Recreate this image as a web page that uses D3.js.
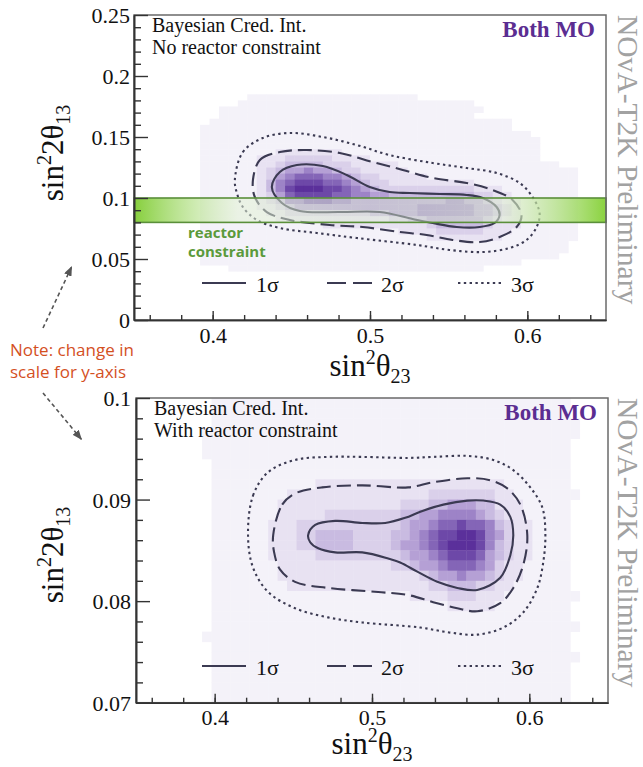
<!DOCTYPE html>
<html><head><meta charset="utf-8">
<script src="https://cdn.jsdelivr.net/npm/d3@7/dist/d3.min.js"></script>
<style>body{margin:0;background:#fff}svg{display:block}</style>
</head><body>
<svg id="c" width="643" height="767"></svg>
<script>
// ---------------- DATA ----------------
const xDomain = [0.35, 0.65];
const xMajorTicks = [0.4, 0.5, 0.6];
const xMajorLabels = ["0.4", "0.5", "0.6"];
const xMinorTicks = [0.36,0.38,0.40,0.42,0.44,0.46,0.48,0.50,0.52,0.54,0.56,0.58,0.60,0.62,0.64];

const topYDomain = [0, 0.25];
const topYMajorTicks = [0, 0.05, 0.1, 0.15, 0.2, 0.25];
const topYMajorLabels = ["0", "0.05", "0.1", "0.15", "0.2", "0.25"];
const topYMinorTicks = [0.01,0.02,0.03,0.04,0.06,0.07,0.08,0.09,0.11,0.12,0.13,0.14,0.16,0.17,0.18,0.19,0.21,0.22,0.23,0.24];

const botYDomain = [0.07, 0.1];
const botYMajorTicks = [0.07, 0.08, 0.09, 0.1];
const botYMajorLabels = ["0.07", "0.08", "0.09", "0.1"];
const botYMinorTicks = [0.072,0.074,0.076,0.078,0.082,0.084,0.086,0.088,0.092,0.094,0.096,0.098];

const reactorBand = [0.08, 0.10];
const legendLabels = ["1σ", "2σ", "3σ"];

// histogram binning (bin widths in data units)
const histXBin = 0.006;
const topGridTop = 0.185, topYBin = 0.005;
const botGridTop = 0.100, botYBin = 0.001;

// posterior density levels (0 = empty, 1..9 increasing)
const topGrid = [
"0000000000 0011111111 1111111111 0000000000 0000000000",
"0000000000 0111111111 1111111111 1111110000 0000000000",
"0000000001 1111111111 1111111111 1111111000 0000000000",
"0000000001 1111111111 1111111111 1111110000 0000000000",
"0000000011 1111111111 1111111111 1111111111 0000000000",
"0000000111 1111111111 1111111111 1111111111 0000000000",
"0000000111 1111111111 1111111111 1111111111 1100000000",
"0000000111 1111111111 1111111111 1111111111 1110000000",
"0000000111 1111111111 1111111111 1111111111 1110000000",
"0000000111 1111122222 2211111111 1111111111 1110000000",
"0000000111 1112223333 3222211111 1111111111 1110000000",
"0000000111 1112234444 3332222211 1111111111 1111100000",
"0000000111 1112345565 5433222221 1111111111 1111111000",
"0000000111 1112356777 6654332222 2111111111 1111111000",
"0000000111 1112467888 7765433222 2222221111 1111111000",
"0000000111 1112468999 8876543333 3333332221 1111111000",
"0000000111 1112357888 8776655444 4444443322 1111111000",
"0000000111 1112346677 7665555555 5556655432 2111111000",
"0000000111 1112234555 5555555555 6666665543 2111111000",
"0000000111 1111223333 3333344555 6666665543 2111111000",
"0000000111 1111122222 2222222334 4555555432 2111111000",
"0000000111 1111111111 2222222222 2344444322 2111111000",
"0000000111 1111111111 1111111122 2233333222 1111111000",
"0000000111 1111111111 1111111111 1222222221 1111111000",
"0000000111 1111111111 1111111111 1111111111 1111110000",
"0000000111 1111111111 1111111111 1111111111 1111110000",
"0000000111 1111111111 1111111111 1111111111 1111100000",
"0000000111 1111111111 1111111111 1111111111 1000000000",
"0000000000 1111111111 1111111111 1111111000 0000000000"
];
const botGrid = [
"0000000011 1111111111 1111111111 1111111111 1111110000",
"0000000011 1111111111 1111111111 1111111111 1111110000",
"0000000011 1111111111 1111111111 1111111111 1111111000",
"0000000111 1111111111 1111111111 1111111111 1111111000",
"0000000111 1111111111 1111111111 1111111111 1111110000",
"0000000111 1111111111 1111111111 1111111111 1111110000",
"0000000011 1111111111 1111111111 1111111111 1111110000",
"0000000011 1111111111 1111111111 1111111111 1111110000",
"0000000011 1111111112 2222222222 2222222221 1111110000",
"0000000011 1111112222 2222222222 2333333322 1111111000",
"0000000011 1111122222 2222222233 3445554422 2111110000",
"0000000011 1111122222 3333333344 5566665432 2111110000",
"0000000011 1111222333 3333333345 5677877643 2211110000",
"0000000011 1111222334 4443333445 6788998653 2211110000",
"0000000011 1111222334 4443333455 6789998643 2211110000",
"0000000011 1111222223 3333333345 5678887543 2211110000",
"0000000011 1111122222 2222222334 5567776532 2111110000",
"0000000011 1111122222 2222222222 3455655432 2111110000",
"0000000011 1111112222 2222222222 2334443322 1111110000",
"0000000011 1111111111 1111111112 2223332221 1111111000",
"0000000011 1111111111 1111111111 1112222211 1111110000",
"0000000011 1111111111 1111111111 1111111111 1111110000",
"0000000011 1111111111 1111111111 1111111111 1111111000",
"0000000111 1111111111 1111111111 1111111111 1111110000",
"0000000011 1111111111 1111111111 1111111111 1111110000",
"0000000011 1111111111 1111111111 1111111111 1111111000",
"0000000011 1111111111 1111111111 1111111111 1111110000",
"0000000011 1111111111 1111111111 1111111111 1111110000",
"0000000011 1111111111 1111111111 1111111111 1111110000",
"0000000011 1111111111 1111111111 1111111111 1111110000"
];

// credible-interval contours [sin^2 theta23, sin^2 2theta13]
const top1s = [[0.4376,0.1090],[0.4427,0.1213],[0.4535,0.1270],[0.4700,0.1262],[0.4852,0.1189],[0.4998,0.1090],[0.5125,0.1049],[0.5252,0.1041],[0.5443,0.1033],[0.5614,0.1025],[0.5716,0.1000],[0.5805,0.0926],[0.5824,0.0861],[0.5792,0.0795],[0.5697,0.0762],[0.5551,0.0762],[0.5398,0.0795],[0.5271,0.0828],[0.5062,0.0885],[0.4808,0.0885],[0.4554,0.0893],[0.4440,0.0959]];
const top2s = [[0.4256,0.1148],[0.4300,0.1311],[0.4427,0.1377],[0.4598,0.1393],[0.4808,0.1369],[0.5017,0.1295],[0.5208,0.1230],[0.5398,0.1164],[0.5614,0.1123],[0.5779,0.1066],[0.5906,0.0984],[0.5963,0.0861],[0.5932,0.0762],[0.5824,0.0680],[0.5697,0.0639],[0.5525,0.0656],[0.5360,0.0697],[0.5189,0.0721],[0.4954,0.0762],[0.4744,0.0779],[0.4490,0.0820],[0.4344,0.0885],[0.4268,0.1008]];
const top3s = [[0.4141,0.1148],[0.4192,0.1377],[0.4319,0.1492],[0.4490,0.1533],[0.4700,0.1500],[0.4916,0.1434],[0.5125,0.1352],[0.5398,0.1287],[0.5614,0.1246],[0.5805,0.1205],[0.5951,0.1123],[0.6033,0.1008],[0.6078,0.0877],[0.6059,0.0762],[0.5995,0.0656],[0.5887,0.0590],[0.5716,0.0557],[0.5506,0.0574],[0.5297,0.0615],[0.4916,0.0672],[0.4662,0.0713],[0.4427,0.0754],[0.4281,0.0820],[0.4192,0.0926],[0.4154,0.1041]];
const bot1s = [[0.4594,0.0865],[0.4639,0.0875],[0.4766,0.0879],[0.4938,0.0877],[0.5084,0.0877],[0.5211,0.0882],[0.5307,0.0888],[0.5453,0.0895],[0.5606,0.0899],[0.5707,0.0899],[0.5815,0.0895],[0.5879,0.0883],[0.5898,0.0865],[0.5879,0.0845],[0.5815,0.0823],[0.5669,0.0811],[0.5542,0.0813],[0.5415,0.0819],[0.5288,0.0829],[0.5179,0.0838],[0.5103,0.0842],[0.4938,0.0848],[0.4766,0.0848],[0.4658,0.0852],[0.4607,0.0858]];
const bot2s = [[0.4372,0.0865],[0.4429,0.0895],[0.4511,0.0906],[0.4683,0.0912],[0.4938,0.0914],[0.5230,0.0912],[0.5389,0.0917],[0.5606,0.0921],[0.5752,0.0919],[0.5860,0.0911],[0.5943,0.0895],[0.5987,0.0865],[0.5962,0.0836],[0.5898,0.0813],[0.5815,0.0798],[0.5669,0.0790],[0.5542,0.0793],[0.5389,0.0799],[0.5230,0.0806],[0.5039,0.0809],[0.4721,0.0813],[0.4511,0.0819],[0.4416,0.0831],[0.4378,0.0848]];
const bot3s = [[0.4212,0.0865],[0.4244,0.0904],[0.4340,0.0927],[0.4511,0.0939],[0.4721,0.0942],[0.4938,0.0942],[0.5230,0.0941],[0.5389,0.0942],[0.5606,0.0943],[0.5771,0.0939],[0.5898,0.0929],[0.6006,0.0912],[0.6083,0.0892],[0.6102,0.0865],[0.6089,0.0839],[0.6051,0.0813],[0.5962,0.0789],[0.5835,0.0774],[0.5669,0.0767],[0.5497,0.0769],[0.5307,0.0774],[0.4938,0.0779],[0.4721,0.0784],[0.4511,0.0793],[0.4340,0.0809],[0.4244,0.0833]];

// ---------------- DRAWING ----------------
const levelColors = ["none","#f4f2f9","#e8e2f2","#dad0ea","#c9bbe1","#b5a0d5","#9d83c7","#8465b7","#6d48a8","#5b309b"];
const lineColor = "#3b3a52";
const serif = "'Liberation Serif','Times New Roman',serif";
const svg = d3.select("#c");
const defs = svg.append("defs");

const lineGen = d3.line().curve(d3.curveCatmullRomClosed.alpha(0.5));

function panel(cfg) {
  const x = d3.scaleLinear().domain(xDomain).range([cfg.left, cfg.right]);
  const y = d3.scaleLinear().domain(cfg.yDomain).range([cfg.bottom, cfg.top]);
  defs.append("clipPath").attr("id", cfg.id + "clip").append("rect")
    .attr("x", cfg.left).attr("y", cfg.top)
    .attr("width", cfg.right - cfg.left).attr("height", cfg.bottom - cfg.top);
  const g = svg.append("g");
  const hg = g.append("g").attr("clip-path", `url(#${cfg.id}clip)`);

  const cells = [];
  cfg.grid.forEach((rowStr, r) => {
    const row = rowStr.replace(/ /g, "");
    for (let c = 0; c < row.length; c++) {
      const v = +row[c];
      if (v > 0) cells.push({
        x0: xDomain[0] + c * histXBin, x1: xDomain[0] + (c + 1) * histXBin,
        yHi: cfg.gridTop - r * cfg.yBin, yLo: cfg.gridTop - (r + 1) * cfg.yBin, v
      });
    }
  });
  hg.selectAll("rect.cell").data(cells).join("rect").attr("class", "cell")
    .attr("x", d => x(d.x0)).attr("y", d => y(d.yHi))
    .attr("width", d => x(d.x1) - x(d.x0) + 0.4)
    .attr("height", d => y(d.yLo) - y(d.yHi) + 0.4)
    .attr("fill", d => levelColors[d.v]);

  const styles = [
    {data: cfg.c1, dash: null},
    {data: cfg.c2, dash: "14,6"},
    {data: cfg.c3, dash: "2.4,3.4"}
  ];
  styles.forEach(s => {
    hg.append("path").attr("d", lineGen(s.data.map(p => [x(p[0]), y(p[1])])))
      .attr("fill", "none").attr("stroke", lineColor).attr("stroke-width", 2.1)
      .attr("stroke-dasharray", s.dash);
  });

  if (cfg.band) {
    const gid = cfg.id + "grad";
    const grad = defs.append("linearGradient").attr("id", gid)
      .attr("gradientUnits", "userSpaceOnUse")
      .attr("x1", x(xDomain[0])).attr("x2", x(xDomain[1])).attr("y1", 0).attr("y2", 0);
    [[0, "#86cf3c", 1], [0.22, "#e2f2d4", 0.55], [0.5, "#dcebd2", 0.42], [0.78, "#e2f2d4", 0.55], [1, "#8ad23f", 1]]
      .forEach(s => grad.append("stop").attr("offset", s[0]).attr("stop-color", s[1]).attr("stop-opacity", s[2]));
    g.append("rect").attr("x", x(xDomain[0])).attr("y", y(cfg.band[1]))
      .attr("width", x(xDomain[1]) - x(xDomain[0])).attr("height", y(cfg.band[0]) - y(cfg.band[1]))
      .attr("fill", `url(#${gid})`).attr("stroke", "#5a8f3a").attr("stroke-width", 1.6);
    const t = g.append("text").attr("font-family", "'Open Sans',sans-serif").attr("font-weight", "bold")
      .attr("font-size", 15).attr("fill", "#5b9a3b");
    t.append("tspan").attr("x", 188).attr("y", 238).text("reactor");
    t.append("tspan").attr("x", 188).attr("y", 257).text("constraint");
  }

  // frame
  g.append("rect").attr("x", cfg.left).attr("y", cfg.top)
    .attr("width", cfg.right - cfg.left).attr("height", cfg.bottom - cfg.top)
    .attr("fill", "none").attr("stroke", "#6a6a6a").attr("stroke-width", 1.5);

  // axes
  const styleAxis = a => {
    a.attr("font-family", serif).attr("font-size", 22);
    a.select(".domain").attr("stroke", "#333").attr("stroke-width", 1.6);
    a.selectAll(".tick line").attr("stroke", "#333").attr("stroke-width", 1.4);
    a.selectAll(".tick text").attr("font-family", serif).attr("font-size", 22).attr("fill", "#111");
  };
  const ax = g.append("g").attr("transform", `translate(0,${cfg.bottom})`)
    .call(d3.axisBottom(x).tickValues(xMinorTicks).tickSize(-5).tickSizeOuter(0).tickFormat(""));
  styleAxis(ax);
  const axM = g.append("g").attr("transform", `translate(0,${cfg.bottom})`)
    .call(d3.axisBottom(x).tickValues(xMajorTicks).tickSize(-9).tickSizeOuter(0).tickPadding(7)
      .tickFormat((d, i) => xMajorLabels[i]));
  styleAxis(axM);
  const ay = g.append("g").attr("transform", `translate(${cfg.left},0)`)
    .call(d3.axisLeft(y).tickValues(cfg.yMinor).tickSize(-7).tickSizeOuter(0).tickFormat(""));
  styleAxis(ay);
  const ayM = g.append("g").attr("transform", `translate(${cfg.left},0)`)
    .call(d3.axisLeft(y).tickValues(cfg.yMajor).tickSize(-14).tickSizeOuter(0).tickPadding(cfg.yPad)
      .tickFormat((d, i) => cfg.yLabels[i]));
  styleAxis(ayM);
  ayM.selectAll(".tick text").attr("dy", "0.34em");

  // texts
  const txt = g.append("text").attr("font-family", serif).attr("font-size", 20).attr("fill", "#111");
  txt.append("tspan").attr("x", cfg.left + 18).attr("y", cfg.top + 17).text("Bayesian Cred. Int.");
  txt.append("tspan").attr("x", cfg.left + 18).attr("y", cfg.top + 39).text(cfg.subtitle);
  g.append("text").attr("x", cfg.right - 11).attr("y", cfg.top + 22).attr("text-anchor", "end")
    .attr("font-family", serif).attr("font-weight", "bold").attr("font-size", 23)
    .attr("fill", "#5b2d91").text("Both MO");
  g.append("text").attr("transform", `translate(${cfg.vtX},${cfg.top}) rotate(90)`)
    .attr("font-family", serif).attr("font-size", 29.5).attr("fill", "#a2a2a2")
    .text("NOvA-T2K Preliminary");

  // axis titles
  const xt = g.append("text").attr("x", (cfg.left + cfg.right) / 2).attr("y", cfg.bottom + cfg.xTitleDy)
    .attr("text-anchor", "middle").attr("font-family", serif).attr("font-size", 31).attr("fill", "#111");
  xt.append("tspan").text("sin");
  xt.append("tspan").attr("font-size", 20).attr("dy", -12).text("2");
  xt.append("tspan").attr("dy", 12).text("θ");
  xt.append("tspan").attr("font-size", 20).attr("dy", 7).text("23");

  const yt = g.append("text").attr("transform", `translate(63,${cfg.yTitleY}) rotate(-90)`)
    .attr("text-anchor", "middle").attr("font-family", serif).attr("font-size", 31).attr("fill", "#111");
  yt.append("tspan").text("sin");
  yt.append("tspan").attr("font-size", 20).attr("dy", -12).text("2");
  yt.append("tspan").attr("dy", 12).text("2θ");
  yt.append("tspan").attr("font-size", 20).attr("dy", 7).text("13");

  // legend
  const ly = cfg.legendY;
  const leg = g.append("g");
  const items = [
    {x0: 202, x1: 246, dash: null, tx: 256},
    {x0: 327, x1: 372, dash: "19,7", tx: 381},
    {x0: 458, x1: 502, dash: "2.4,3.4", tx: 511}
  ];
  items.forEach((it, i) => {
    leg.append("line").attr("x1", it.x0).attr("x2", it.x1).attr("y1", ly).attr("y2", ly)
      .attr("stroke", lineColor).attr("stroke-width", 2.1).attr("stroke-dasharray", it.dash);
    leg.append("text").attr("x", it.tx).attr("y", ly + 9).attr("font-family", serif)
      .attr("font-size", 22).attr("fill", "#111").text(legendLabels[i]);
  });
}

panel({id: "top", left: 134, right: 606, top: 15, bottom: 320,
  yDomain: topYDomain, yMajor: topYMajorTicks, yLabels: topYMajorLabels, yMinor: topYMinorTicks, yPad: 4,
  grid: topGrid, gridTop: topGridTop, yBin: topYBin,
  c1: top1s, c2: top2s, c3: top3s, band: reactorBand, vtX: 618,
  subtitle: "No reactor constraint", xTitleDy: 56, yTitleY: 153, legendY: 283});

panel({id: "bot", left: 136, right: 608, top: 398, bottom: 702.7,
  yDomain: botYDomain, yMajor: botYMajorTicks, yLabels: botYMajorLabels, yMinor: botYMinorTicks, yPad: 5,
  grid: botGrid, gridTop: botGridTop, yBin: botYBin,
  c1: bot1s, c2: bot2s, c3: bot3s, band: null, vtX: 618,
  subtitle: "With reactor constraint", xTitleDy: 51, yTitleY: 555, legendY: 666});

// annotation
const note = svg.append("text").attr("font-family", "'Open Sans',sans-serif").attr("font-size", 17).attr("fill", "#d4501f");
note.append("tspan").attr("x", 10).attr("y", 356).text("Note: change in");
note.append("tspan").attr("x", 10).attr("y", 378).text("scale for y-axis");

defs.append("marker").attr("id", "ah").attr("viewBox", "0 0 10 8").attr("refX", 10).attr("refY", 4)
  .attr("markerWidth", 10).attr("markerHeight", 8).attr("markerUnits", "userSpaceOnUse").attr("orient", "auto")
  .append("path").attr("d", "M0,0L10,4L0,8z").attr("fill", "#555");
const arrows = [[[43, 328], [72, 266]], [[43, 393], [82, 440]]];
arrows.forEach(a => {
  svg.append("line").attr("x1", a[0][0]).attr("y1", a[0][1]).attr("x2", a[1][0]).attr("y2", a[1][1])
    .attr("stroke", "#555").attr("stroke-width", 1.6).attr("stroke-dasharray", "4,3")
    .attr("marker-end", "url(#ah)");
});
</script>
</body></html>
